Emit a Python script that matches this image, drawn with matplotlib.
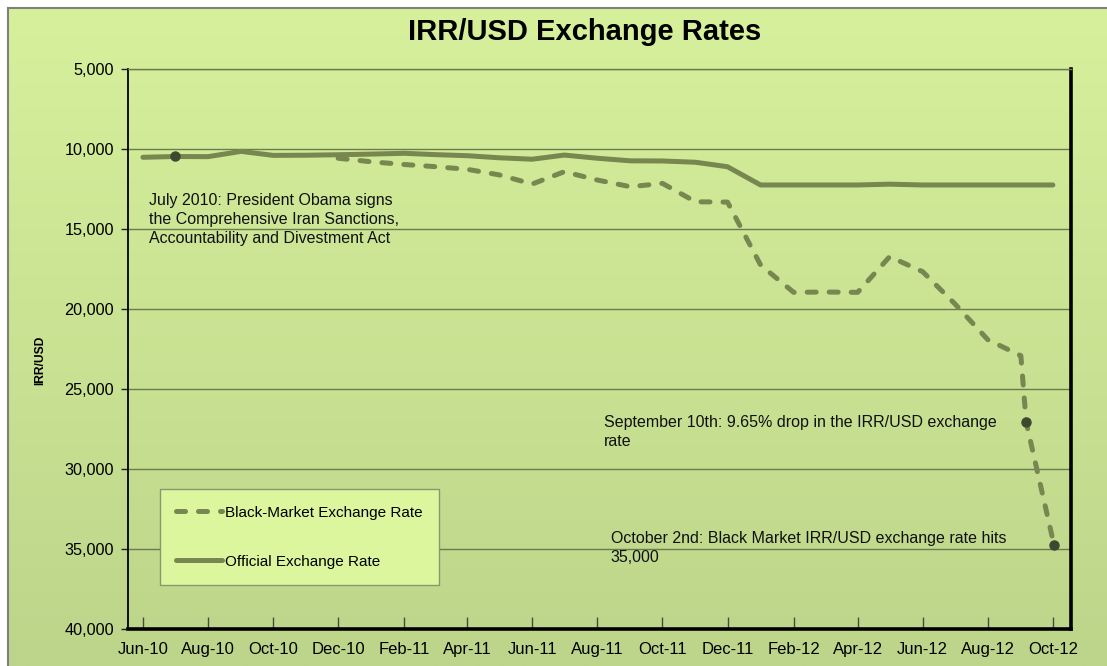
import matplotlib
matplotlib.use('Agg')
import matplotlib.pyplot as plt
import matplotlib.dates as mdates
import matplotlib.ticker as mticker
from matplotlib.colors import LinearSegmentedColormap
import numpy as np
import pandas as pd

plt.rcParams['font.family'] = ['Liberation Sans', 'DejaVu Sans']

# monthly readings (1st of month)
official_months = ['2010-06', '2010-07', '2010-08', '2010-09', '2010-10', '2010-11',
                   '2010-12', '2011-01', '2011-02', '2011-03', '2011-04', '2011-05',
                   '2011-06', '2011-07', '2011-08', '2011-09', '2011-10', '2011-11',
                   '2011-12', '2012-01', '2012-02', '2012-03', '2012-04', '2012-05',
                   '2012-06', '2012-07', '2012-08', '2012-09', '2012-10']
official_rate = [10500, 10450, 10460, 10130, 10380, 10370,
                 10340, 10300, 10250, 10330, 10400, 10530,
                 10620, 10360, 10560, 10720, 10730, 10810,
                 11090, 12230, 12230, 12230, 12230, 12180,
                 12230, 12230, 12230, 12230, 12230]

black_dates = ['2010-12-01', '2011-01-01', '2011-02-01', '2011-03-01', '2011-04-01',
               '2011-05-01', '2011-06-01', '2011-07-01', '2011-08-01', '2011-09-01',
               '2011-10-01', '2011-11-01', '2011-12-01', '2012-01-01', '2012-02-01',
               '2012-03-01', '2012-04-01', '2012-05-01', '2012-06-01', '2012-07-01',
               '2012-08-01', '2012-09-01', '2012-09-06', '2012-10-02']
black_rate = [10560, 10780, 10950, 11080, 11250,
              11600, 12170, 11400, 11920, 12340,
              12130, 13280, 13300, 17230, 18940,
              18920, 18940, 16710, 17650, 19650,
              21900, 22900, 27060, 34700]

event_dates = ['2010-07-01', '2012-09-06', '2012-10-02']
event_rate = [10450, 27060, 34700]
event_text = ['July 2010: President Obama signs\nthe Comprehensive Iran Sanctions,\nAccountability and Divestment Act',
              'September 10th: 9.65% drop in the IRR/USD exchange\nrate',
              'October 2nd: Black Market IRR/USD exchange rate hits\n35,000']
event_text_pos = [(0.022, 0.779), (0.505, 0.383), (0.512, 0.176)]

line_col = '#77874f'
grid_col = '#6c7b4c'

W, H = 1107, 666
fig = plt.figure(figsize=(W / 100, H / 100), dpi=100)
fig.patch.set_facecolor('white')

# gradient panel behind everything
bg = fig.add_axes([8 / W, 0, 1 - 8 / W, 1 - 8 / H], zorder=0)
grad = np.linspace(0, 1, 256).reshape(-1, 1)
cmap = LinearSegmentedColormap.from_list('bg', ['#d7f09c', '#bcd58a'])
bg.imshow(grad, aspect='auto', cmap=cmap, extent=[0, 1, 0, 1], origin='upper')
bg.set_xticks([])
bg.set_yticks([])
for s in ['right', 'bottom']:
    bg.spines[s].set_visible(False)
for s in ['left', 'top']:
    bg.spines[s].set_color('#7f7f7f')
    bg.spines[s].set_linewidth(1.5)

ax = fig.add_axes([128 / W, 1 - 629.3 / H, (1071 - 128) / W, 560 / H], zorder=1)
ax.set_facecolor('none')

off_x = pd.to_datetime(official_months)
bm_x = pd.to_datetime(black_dates)
ev_x = pd.to_datetime(event_dates)

bm_line, = ax.plot(bm_x, black_rate, color=line_col, lw=3.6, dashes=(1.8, 2.6),
                   dash_capstyle='round', solid_joinstyle='round',
                   label='Black-Market Exchange Rate', zorder=3)
off_line, = ax.plot(off_x, official_rate, color=line_col, lw=3.6,
                    solid_capstyle='round', solid_joinstyle='round',
                    label='Official Exchange Rate', zorder=3)
ax.plot(ev_x, event_rate, 'o', color='#3d4830', ms=6.5, zorder=4)

for txt, pos in zip(event_text, event_text_pos):
    ax.text(pos[0], pos[1], txt, transform=ax.transAxes, fontsize=11.5,
            va='top', ha='left', linespacing=1.33, color='#111111')

ax.set_ylim(40000, 5000)
ax.set_xlim(pd.Timestamp('2010-05-18'), pd.Timestamp('2012-10-18'))
ax.yaxis.set_major_locator(mticker.MultipleLocator(5000))
ax.yaxis.set_major_formatter(mticker.FuncFormatter(lambda v, p: f'{int(v):,}'))
ax.xaxis.set_major_locator(mdates.MonthLocator(bymonth=[2, 4, 6, 8, 10, 12]))
ax.xaxis.set_major_formatter(mdates.DateFormatter('%b-%y'))

ax.grid(axis='y', color=grid_col, lw=1.0)
ax.set_axisbelow(True)
ax.tick_params(axis='x', direction='in', length=9, width=1, color='#4a4a3a',
               labelsize=12, pad=9)
ax.tick_params(axis='y', direction='out', length=5, width=1, color='#222222',
               labelsize=11.7, pad=5)

ax.spines['top'].set_color(grid_col)
ax.spines['top'].set_linewidth(1.0)
ax.spines['left'].set_color('black')
ax.spines['left'].set_linewidth(1.3)
ax.spines['right'].set_color('black')
ax.spines['right'].set_linewidth(2.6)
ax.spines['bottom'].set_color('black')
ax.spines['bottom'].set_linewidth(2.6)

ax.set_ylabel('IRR/USD', fontsize=8.7, fontweight='bold')
ax.yaxis.set_label_coords(-(128 - 46) / 943, 0.48)

leg = ax.legend(handles=[bm_line, off_line], loc='lower left',
                bbox_to_anchor=(0.034, 0.079), fontsize=11, handlelength=3.0,
                handletextpad=0.2, labelspacing=2.3, borderpad=1.07,
                fancybox=False, framealpha=1, borderaxespad=0)
leg.get_frame().set_facecolor('#dcf69e')
leg.get_frame().set_edgecolor('#8a9670')
leg.get_frame().set_linewidth(1.0)

fig.text(584.5 / W, 1 - 32 / H, 'IRR/USD Exchange Rates', fontsize=21,
         fontweight='bold', ha='center', va='center')

fig.savefig('out.png', dpi=100)
